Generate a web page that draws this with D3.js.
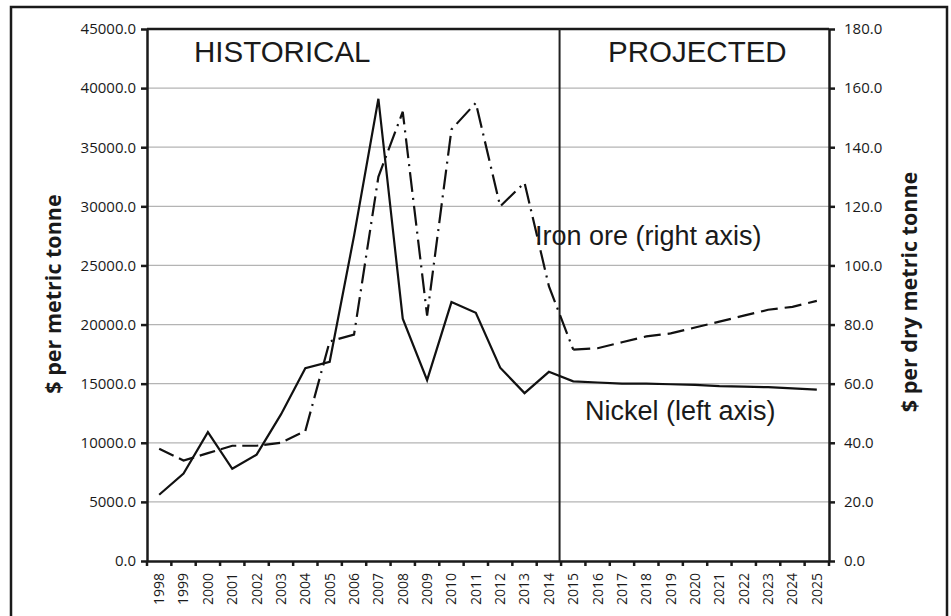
<!DOCTYPE html>
<html>
<head>
<meta charset="utf-8">
<script src="https://cdn.jsdelivr.net/npm/d3@7"></script>
<style>
  html, body { margin: 0; padding: 0; background: #fff; }
  svg { display: block; }
</style>
</head>
<body>
<svg id="chart" width="951" height="616"></svg>
<script>
// ---- data ----
const years = ["1998","1999","2000","2001","2002","2003","2004","2005","2006","2007","2008","2009","2010","2011","2012","2013","2014","2015","2016","2017","2018","2019","2020","2021","2022","2023","2024","2025"];
const nickel = [5600, 7400, 10900, 7800, 9000, 12400, 16300, 16850, 27500, 39100, 20500, 15300, 21900, 21000, 16350, 14200, 16000, 15200, 15100, 15000, 15000, 14950, 14900, 14800, 14750, 14700, 14600, 14500];
const ironOre = [38, 34, 36.5, 39, 39, 40, 44, 74.3, 76.6, 130, 152, 83, 146, 155, 120, 128, 93, 71.5, 72, 74, 76, 77, 79, 81, 83, 85, 86, 88];
const leftTicks = [0, 5000, 10000, 15000, 20000, 25000, 30000, 35000, 40000, 45000];
const rightTicks = [0, 20, 40, 60, 80, 100, 120, 140, 160, 180];
const leftTitle = "$ per metric tonne";
const rightTitle = "$ per dry metric tonne";
const periodLabels = ["HISTORICAL", "PROJECTED"];
const seriesLabels = ["Iron ore (right axis)", "Nickel (left axis)"];
const firstProjectedYear = "2015";
const dashDotStart = "2004";

// ---- layout ----
const svg = d3.select("#chart");
const L = 147, R = 829, T = 29, B = 561;
const tickFont = "'Open Sans', sans-serif";
const ink = "#1a1a1a";

const x = d3.scaleBand().domain(years).range([L, R]).paddingInner(0).paddingOuter(0);
const cx = d => x(d) + x.bandwidth() / 2;
const yL = d3.scaleLinear().domain([0, 45000]).range([B, T]);
const yR = d3.scaleLinear().domain([0, 180]).range([B, T]);

// outer frame
svg.append("rect").attr("x", 11).attr("y", 7).attr("width", 936).attr("height", 620)
  .attr("fill", "none").attr("stroke", ink).attr("stroke-width", 2.5);

// gridlines
svg.append("g").selectAll("line").data(leftTicks.filter(d => d > 0 && d < 45000)).join("line")
  .attr("x1", L).attr("x2", R).attr("y1", d => yL(d)).attr("y2", d => yL(d))
  .attr("stroke", "#b4b4b4").attr("stroke-width", 1.3);

// left axis
const gl = svg.append("g").attr("transform", `translate(${L},0)`)
  .call(d3.axisLeft(yL).tickValues(leftTicks).tickFormat(d => d.toFixed(1)).tickSize(6).tickPadding(5).tickSizeOuter(0));
gl.select(".domain").attr("stroke", ink).attr("stroke-width", 2.5);
gl.selectAll(".tick line").attr("stroke", ink).attr("stroke-width", 2.5);
gl.selectAll(".tick text").attr("font-family", tickFont).attr("font-size", 15).attr("fill", ink);

// right axis
const gr = svg.append("g").attr("transform", `translate(${R},0)`)
  .call(d3.axisRight(yR).tickValues(rightTicks).tickFormat(d => d.toFixed(1)).tickSize(6).tickPadding(9).tickSizeOuter(0));
gr.select(".domain").attr("stroke", ink).attr("stroke-width", 2.5);
gr.selectAll(".tick line").attr("stroke", ink).attr("stroke-width", 2.5);
gr.selectAll(".tick text").attr("font-family", tickFont).attr("font-size", 15).attr("fill", ink);

// top border
svg.append("line").attr("x1", L).attr("x2", R).attr("y1", T).attr("y2", T)
  .attr("stroke", ink).attr("stroke-width", 2.5);

// bottom axis (ticks at category boundaries)
const gb = svg.append("g").attr("transform", `translate(0,${B})`)
  .call(d3.axisBottom(x).tickSize(0).tickPadding(0).tickSizeOuter(0));
gb.select(".domain").attr("stroke", ink).attr("stroke-width", 2.5);
gb.selectAll(".tick text")
  .attr("font-family", tickFont).attr("font-size", 14).attr("fill", ink)
  .attr("text-anchor", "end").attr("dy", "0.35em")
  .attr("transform", "translate(0,12) rotate(-90)").attr("x", 0).attr("y", 0);
const boundaries = years.map(d => x(d)).concat([x.range()[1]]);
svg.append("g").selectAll("line").data(boundaries).join("line")
  .attr("x1", d => d).attr("x2", d => d).attr("y1", B).attr("y2", B + 5)
  .attr("stroke", ink).attr("stroke-width", 2.5);

// divider
const xDiv = x(firstProjectedYear);
svg.append("line").attr("x1", xDiv - 1.5).attr("x2", xDiv - 1.5).attr("y1", T).attr("y2", B)
  .attr("stroke", "#222").attr("stroke-width", 2);

// lines
const lineL = d3.line().x(d => cx(d.year)).y(d => yL(d.v));
const lineR = d3.line().x(d => cx(d.year)).y(d => yR(d.v));
const nickelData = years.map((y, i) => ({year: y, v: nickel[i]}));
const ironData = years.map((y, i) => ({year: y, v: ironOre[i]}));

const iA = years.indexOf(dashDotStart), iB = years.indexOf(firstProjectedYear);
const ironSegs = [
  {data: ironData.slice(0, iA + 1), dash: "16,6"},
  {data: ironData.slice(iA, iB + 1), dash: "20,6,2,6"},
  {data: ironData.slice(iB), dash: "17,7"}
];
svg.append("g").selectAll("path").data(ironSegs).join("path")
  .attr("d", d => lineR(d.data)).attr("fill", "none").attr("stroke", "#111")
  .attr("stroke-width", 2.2).attr("stroke-dasharray", d => d.dash);

svg.append("path").attr("d", lineL(nickelData)).attr("fill", "none")
  .attr("stroke", "#111").attr("stroke-width", 2.2).attr("stroke-linejoin", "miter");

// annotations
const annFont = "'Liberation Sans', Arial, sans-serif";
svg.append("text").attr("x", 194).attr("y", 62).text(periodLabels[0])
  .attr("font-family", annFont).attr("font-size", 29.5).attr("fill", ink);
svg.append("text").attr("x", 608).attr("y", 62).text(periodLabels[1])
  .attr("font-family", annFont).attr("font-size", 29.5).attr("fill", ink);
svg.append("text").attr("x", 535).attr("y", 245).text(seriesLabels[0])
  .attr("font-family", annFont).attr("font-size", 27).attr("fill", ink);
svg.append("text").attr("x", 585).attr("y", 420).text(seriesLabels[1])
  .attr("font-family", annFont).attr("font-size", 27).attr("fill", ink);

// axis titles
svg.append("text").attr("transform", "translate(61,294) rotate(-90)")
  .attr("text-anchor", "middle").text(leftTitle)
  .attr("font-family", tickFont).attr("font-weight", "bold").attr("font-size", 21.5).attr("fill", ink);
svg.append("text").attr("transform", "translate(917,292) rotate(-90)")
  .attr("text-anchor", "middle").text(rightTitle)
  .attr("font-family", tickFont).attr("font-weight", "bold").attr("font-size", 21.5).attr("fill", ink);
</script>
</body>
</html>
